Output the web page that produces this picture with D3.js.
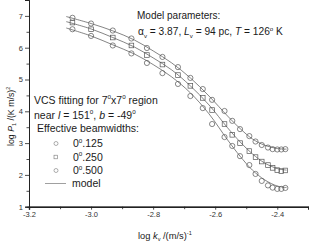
<!DOCTYPE html>
<html>
<head>
<meta charset="utf-8">
<script src="https://cdn.jsdelivr.net/npm/d3@7"></script>
<style>
  body { margin: 0; background: #fff; }
  svg { display: block; font-family: "Liberation Sans", Arial, sans-serif; }
</style>
</head>
<body>
<div id="chart"></div>
<script>
// measured spectra, log kv vs log P1
const logK = [-3.06, -3.00, -2.93, -2.87, -2.82, -2.77, -2.72, -2.68, -2.64, -2.61, -2.57,
  -2.545, -2.52, -2.49, -2.47, -2.45, -2.43, -2.415, -2.40, -2.387, -2.374];
const beam125 = [6.94, 6.76, 6.54, 6.29, 5.99, 5.71, 5.39, 5.05, 4.70, 4.36, 4.01,
  3.70, 3.44, 3.22, 3.05, 2.94, 2.86, 2.81, 2.80, 2.80, 2.81];
const beam250 = [6.79, 6.58, 6.32, 6.07, 5.77, 5.47, 5.14, 4.80, 4.42, 4.04, 3.60,
  3.26, 3.00, 2.75, 2.56, 2.42, 2.31, 2.22, 2.15, 2.12, 2.14];
const beam500 = [6.58, 6.37, 6.07, 5.82, 5.52, 5.20, 4.86, 4.48, 4.10, 3.60, 3.19,
  2.91, 2.59, 2.31, 2.03, 1.81, 1.67, 1.60, 1.56, 1.56, 1.59];

// model curves
const modelK = [-3.08, -3.00, -2.93, -2.86, -2.80, -2.74, -2.68, -2.62, -2.56, -2.52, -2.48, -2.44, -2.40, -2.37];
const model125 = [6.98, 6.76, 6.53, 6.24, 5.90, 5.52, 5.05, 4.48, 3.85, 3.46, 3.13, 2.93, 2.83, 2.81];
const model250 = [6.82, 6.59, 6.32, 6.02, 5.68, 5.30, 4.80, 4.20, 3.48, 3.04, 2.66, 2.37, 2.20, 2.15];
const model500 = [6.62, 6.37, 6.09, 5.80, 5.47, 5.08, 4.58, 3.92, 3.10, 2.59, 2.15, 1.84, 1.65, 1.60];

const xTicks = [-3.2, -3.0, -2.8, -2.6, -2.4];
const xMinor = [-3.1, -2.9, -2.7, -2.5, -2.3];
const yTicks = [1, 2, 3, 4, 5, 6, 7];
const yMinor = [1.5, 2.5, 3.5, 4.5, 5.5, 6.5];
const beamLabels = ['.125', '.250', '.500'];

const dims = { width: 309, height: 242 };
const margins = { left: 29, right: 0.7, top: 0, bottom: 35.3 };

const svg = d3.select('div#chart')
  .append('svg')
  .attr('width', dims.width)
  .attr('height', dims.height);

const xScale = d3.scaleLinear()
  .domain([-3.2, -2.3])
  .range([margins.left, dims.width - margins.right]);

const yScale = d3.scaleLinear()
  .domain([1, 7.5])
  .range([dims.height - margins.bottom, margins.top]);

const axisColor = '#222';
const markColor = '#555';

// axes
const xAxis = svg.append('g')
  .attr('transform', `translate(0, ${yScale(1)})`)
  .call(d3.axisBottom(xScale).tickValues(xTicks).tickSize(3).tickPadding(2)
    .tickFormat(d => d.toFixed(1)));
xAxis.append('g')
  .call(d3.axisBottom(xScale).tickValues(xMinor).tickSize(2.5).tickFormat(''));

const yAxis = svg.append('g')
  .attr('transform', `translate(${margins.left}, 0)`)
  .call(d3.axisLeft(yScale).tickValues(yTicks).tickSize(4).tickPadding(2)
    .tickFormat(d3.format('d')));
yAxis.append('g')
  .call(d3.axisLeft(yScale).tickValues(yMinor).tickSize(2.5).tickFormat(''));

svg.selectAll('.domain').attr('stroke', axisColor);
xAxis.select('.domain').attr('stroke-width', 1.4);
svg.selectAll('.tick line').attr('stroke', axisColor).attr('stroke-width', 0.8);
svg.selectAll('.tick text')
  .attr('font-family', '"Liberation Sans", Arial, sans-serif')
  .attr('font-size', 7.5)
  .attr('fill', '#333');

// model lines
const line = d3.line()
  .x((d, i) => xScale(modelK[i]))
  .y(d => yScale(d))
  .curve(d3.curveCatmullRom);

svg.selectAll('path.model')
  .data([model125, model250, model500])
  .join('path')
    .attr('class', 'model')
    .attr('d', line)
    .attr('fill', 'none')
    .attr('stroke', '#666')
    .attr('stroke-width', 0.8);

// data markers
function drawMarks(values, shape) {
  const pts = values.map((v, i) => [xScale(logK[i]), yScale(v)]);
  if (shape === 'square') {
    svg.append('g').selectAll('rect')
      .data(pts)
      .join('rect')
        .attr('x', d => d[0] - 2.3)
        .attr('y', d => d[1] - 2.3)
        .attr('width', 4.6)
        .attr('height', 4.6)
        .attr('fill', 'none')
        .attr('stroke', markColor)
        .attr('stroke-width', 0.7);
  } else {
    svg.append('g').selectAll('circle')
      .data(pts)
      .join('circle')
        .attr('cx', d => d[0])
        .attr('cy', d => d[1])
        .attr('r', 2.6)
        .attr('fill', 'none')
        .attr('stroke', markColor)
        .attr('stroke-width', 0.7);
  }
}
drawMarks(beam125, 'circle');
drawMarks(beam250, 'square');
drawMarks(beam500, 'circle');

// rich text helper: segments of [text, style]
function richText(x, y, parts, size, anchor) {
  const t = svg.append('text')
    .attr('x', x)
    .attr('y', y)
    .attr('font-size', size)
    .attr('fill', '#1a1a1a')
    .attr('text-anchor', anchor || 'start');
  parts.forEach(([txt, style]) => {
    const s = t.append('tspan').text(txt);
    if (style === 'i') s.attr('font-style', 'italic');
    if (style === 'sub') s.attr('font-size', size * 0.6).attr('dy', size * 0.25);
    if (style === 'sup') s.attr('font-size', size * 0.6).attr('dy', -size * 0.4);
    if (style === 'up') s.attr('dy', -size * 0.25);
    if (style === 'down') s.attr('dy', size * 0.4);
  });
  return t;
}

richText(137, 18.5, [['Model parameters:']], 10);
richText(138, 35, [
  ['\u03b1'], ['v', 'sub'], [' = 3.87, ', 'up'], ['L', 'i'], ['v', 'sub'], [' = 94 pc, ', 'up'],
  ['T', 'i'], [' = 126'], ['o', 'sup'], [' K', 'down']
], 10.2);

richText(34, 103.5, [['VCS fitting for 7'], ['o', 'sup'], ['x7', 'down'], ['o', 'sup'], [' region', 'down']], 10.5);
richText(34, 118.5, [['near '], ['l', 'i'], [' = 151'], ['o', 'sup'], [', ', 'down'], ['b', 'i'], [' = -49'], ['o', 'sup']], 10.5);
richText(37, 132, [['Effective beamwidths:']], 10.5);

// legend
const legendY = [143.5, 157, 170.5];
beamLabels.forEach((lab, i) => {
  const cy = legendY[i];
  if (i === 1) {
    svg.append('rect').attr('x', 54).attr('y', cy - 1.8).attr('width', 3.6).attr('height', 3.6)
      .attr('fill', 'none').attr('stroke', '#777').attr('stroke-width', 0.6);
  } else {
    svg.append('circle').attr('cx', 56).attr('cy', cy).attr('r', 2)
      .attr('fill', 'none').attr('stroke', '#777').attr('stroke-width', 0.6);
  }
  richText(73, cy + 3.6, [['0'], ['o', 'sup'], [lab, 'down']], 10.5);
});
svg.append('line')
  .attr('x1', 45).attr('x2', 66)
  .attr('y1', 183.5).attr('y2', 183.5)
  .attr('stroke', '#888').attr('stroke-width', 0.8);
richText(72, 187, [['model']], 10.5);

// axis titles
richText(138, 238.5, [['log  '], ['k', 'i'], ['v', 'sub'], [' /(m/s)', 'up'], ['-1', 'sup']], 9.3);

const yTitle = richText(0, 0, [['log  '], ['P', 'i'], ['1', 'sub'], [' /(K m/s)', 'up'], ['2', 'sup']], 8.8);
yTitle.attr('transform', 'translate(13.5, 146) rotate(-90)');
</script>
</body>
</html>
